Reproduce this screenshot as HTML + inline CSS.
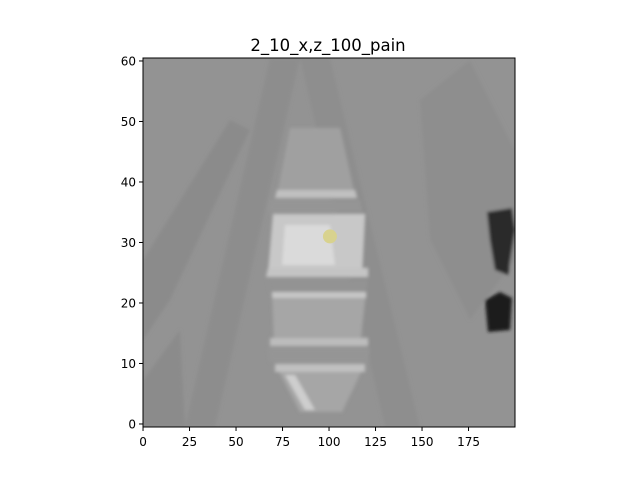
<!DOCTYPE html>
<html><head><meta charset="utf-8"><style>
body{margin:0;background:#fff;}
svg{display:block;font-family:"DejaVu Sans","Liberation Sans",sans-serif;}
</style></head><body>
<svg id="chart" width="640" height="480" viewBox="0 0 640 480">
<defs><filter id="blur" x="-10%" y="-10%" width="120%" height="120%"><feGaussianBlur stdDeviation="1.6"/></filter>
<clipPath id="clip"><rect x="143" y="58" width="372" height="369"/></clipPath></defs>
<text x="328" y="51" text-anchor="middle" font-size="16.5" fill="#000">2_10_x,z_100_pain</text>
<g id="img" clip-path="url(#clip)"></g>
<rect x="143" y="58" width="372" height="369" fill="none" stroke="#000" stroke-width="1"/>
<g id="xt"></g>
<g id="yt"></g>
</svg>
<script>
const xTicks=[0,25,50,75,100,125,150,175];
const yTicks=[0,10,20,30,40,50,60];
const markerX=[100];
const markerY=[31];
const X=v=>143+1.86*(v+0.5), Y=v=>427-6.05*(v+0.5);
const NS='http://www.w3.org/2000/svg';
function mk(t,a,p){const e=document.createElementNS(NS,t);for(const k in a)e.setAttribute(k,a[k]);p.appendChild(e);return e;}
const img=document.getElementById('img');
const bg=mk('rect',{x:143,y:58,width:372,height:369,fill:'#939393'},img);


const g=mk('g',{filter:'url(#blur)'},img);
const polys=[
 ['143,260 230,120 250,130 170,300 143,340','#8b8b8b'],
 ['185,427 270,58 300,58 215,427','#8d8d8d'],
 ['300,58 330,58 420,427 385,427','#8e8e8e'],
 ['420,100 470,60 515,150 515,260 470,320 430,240','#8e8e8e'],
 ['143,380 180,330 185,427 143,427','#8b8b8b'],
 ['290,128 340,128 355,196 277,196','#a0a0a0'],
 ['277,190 355,190 357,198 275,198','#c0c0c0'],
 ['270,200 360,200 362,212 268,212','#959595'],
 ['273,214 365,214 362,273 268,273','#c8c8c8'],
 ['285,225 330,225 335,265 282,265','#dadada'],
 ['268,268 368,268 368,277 266,277','#c4c4c4'],
 ['268,280 368,280 366,292 270,292','#939393'],
 ['272,292 366,292 360,345 274,345','#a6a6a6'],
 ['272,292 366,292 366,298 272,298','#c6c6c6'],
 ['270,338 368,338 368,346 270,346','#bcbcbc'],
 ['268,348 370,348 368,362 270,362','#959595'],
 ['275,364 365,364 342,412 300,412','#a6a6a6'],
 ['275,364 365,364 365,372 275,372','#c0c0c0'],
 ['285,375 295,375 315,410 305,410','#cecece'],
 ['487,212 512,208 515,230 508,275 495,270 490,240','#2a2a2a'],
 ['485,300 500,292 512,298 510,330 488,332','#1a1a1a'],
];
polys.forEach((p,i)=>{const e=mk('polygon',{points:p[0],fill:p[1]},g);

});
markerX.forEach((mx,i)=>{const c=mk('circle',{cx:X(mx),cy:Y(markerY[i]),r:7,fill:'#d8d28e'},img);

});
const xt=document.getElementById('xt'), yt=document.getElementById('yt');
xTicks.forEach(v=>{const x=X(v)-0.9;mk('line',{x1:x,x2:x,y1:427,y2:431,stroke:'#000'},xt);
const t=mk('text',{x:x,y:446,'text-anchor':'middle','font-size':12},xt);t.textContent=v;

});
yTicks.forEach(v=>{const y=Y(v);mk('line',{x1:139,x2:143,y1:y,y2:y,stroke:'#000'},yt);
const t=mk('text',{x:136,y:y+4.5,'text-anchor':'end','font-size':12},yt);t.textContent=v;

});
</script>
</body></html>
